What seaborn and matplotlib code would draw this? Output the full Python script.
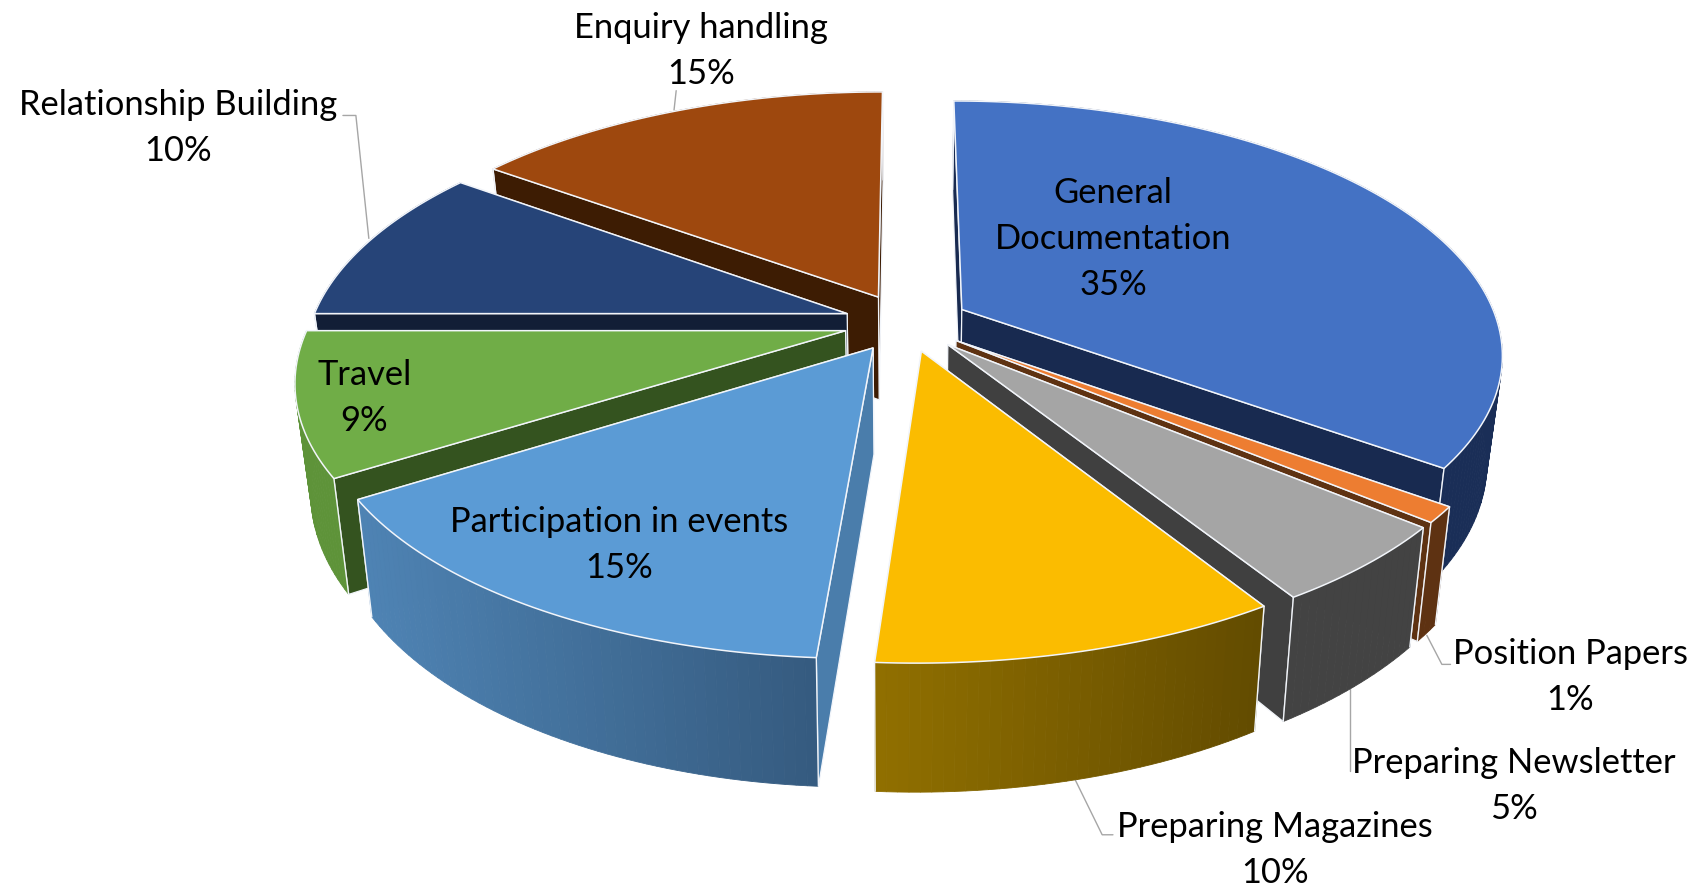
import numpy as np
import matplotlib
matplotlib.use('Agg')
import matplotlib.pyplot as plt
import matplotlib.colors as mcolors
import seaborn as sns

labels = ['General\nDocumentation', 'Position Papers', 'Preparing Newsletter', 'Preparing Magazines',
          'Participation in events', 'Travel', 'Relationship Building', 'Enquiry handling']
values = [35, 1, 5, 10, 15, 9, 10, 15]

top_colors = ['#4472C4', '#ED7D31', '#A5A5A5', '#FBBC00', '#5B9BD5', '#70AD47', '#264478', '#9E480E']
cut_colors = ['#182A50', '#5E3212', '#404040', '#6A5200', '#4A7DAB', '#34531F', '#121E36', '#3D1C03']
rim_left = ['#1A2E57', '#5E3212', '#434343', '#917000', '#4F84B5', '#5E9339', '#1B3157', '#6E330A']
rim_right = ['#1A2E57', '#5E3212', '#434343', '#624B00', '#355B7F', '#5E9339', '#1B3157', '#6E330A']

label_pos = [(1032, 222), (1456, 628), (1404, 729), (1182, 788), (574, 505), (338, 369), (165, 119), (650, 47)]

sns.set_theme(style='white')
plt.rcParams['font.family'] = ['Lato', 'DejaVu Sans']

# shape of the fake 3d view, in pixels of the shrunk picture
cx, cy = 840.5, 300
rx, ry = 497, 230
depth = 97
persp = 0.17
skew = 8


def project(u, v, z):
    s = 1 / (1 + persp * v)
    sz = 1 - 0.026 * z
    shift = skew * min(v, 0) * (1 - 0.9 * max(u, 0))
    return cx + rx * u * s * sz + shift, cy - ry * v * s + depth * z * s


fig, ax = plt.subplots(figsize=(16.91, 8.87), dpi=100)
fig.subplots_adjust(0, 0, 1, 1)

wedges, _ = ax.pie(values, explode=[0.117] * len(values), startangle=90, counterclock=False, radius=1)
shapes = [(w.center, w.theta1, w.theta2) for w in wedges]
for w in wedges:
    w.remove()
ax.set_aspect('auto')
ax.set_xlim(0, 1568)
ax.set_ylim(822.5, 0)
ax.axis('off')

edge = '#F2F5FA'

# back slices first
order = sorted(range(len(values)), key=lambda i: -(shapes[i][0][1]))
for i in order:
    (ox, oy), t1, t2 = shapes[i]
    th = np.radians(np.linspace(t1, t2, max(int(t2 - t1), 3) + 1))
    us = ox + np.cos(th)
    vs = oy + np.sin(th)

    faces = []
    for k in range(len(th) - 1):
        a = project(us[k], vs[k], 0)
        b = project(us[k + 1], vs[k + 1], 0)
        c = project(us[k + 1], vs[k + 1], 1)
        d = project(us[k], vs[k], 1)
        faces.append(((vs[k] + vs[k + 1]) / 2, [a, b, c, d], 'rim'))
    for end in (0, -1):
        a = project(ox, oy, 0)
        b = project(us[end], vs[end], 0)
        c = project(us[end], vs[end], 1)
        d = project(ox, oy, 1)
        faces.append(((oy + vs[end]) / 2, [a, b, c, d], 'cut'))

    xs_rim = [project(u, v, 0)[0] for u, v in zip(us, vs)]
    x0, x1 = min(xs_rim), max(xs_rim)
    c0 = np.array(mcolors.to_rgb(rim_left[i]))
    c1 = np.array(mcolors.to_rgb(rim_right[i]))

    for _, poly, kind in sorted(faces, key=lambda f: -f[0]):
        poly = np.array(poly)
        if kind == 'rim':
            t = (poly[:, 0].mean() - x0) / max(x1 - x0, 1)
            col = c0 + (c1 - c0) * t
            ax.fill(poly[:, 0], poly[:, 1], color=col, lw=0.6, zorder=2)
        else:
            ax.fill(poly[:, 0], poly[:, 1], facecolor=cut_colors[i], edgecolor=edge, lw=0.9, zorder=2)

    # white lines down the two ends of the rim
    for end in (0, -1):
        p = np.array([project(us[end], vs[end], 0), project(us[end], vs[end], 1)])
        ax.plot(p[:, 0], p[:, 1], color=edge, lw=1.0, zorder=2)

    top = [project(ox, oy, 0)] + [project(u, v, 0) for u, v in zip(us, vs)]
    top = np.array(top)
    ax.fill(top[:, 0], top[:, 1], facecolor=top_colors[i], edgecolor=edge, lw=1.1, zorder=2, joinstyle='round')

# leader lines
leaders = [
    [(625, 103), (627, 85)],
    [(342, 222), (330, 108), (318, 108)],
    [(1323, 590), (1337, 617), (1345, 617)],
    [(1252, 640), (1252, 716)],
    [(996, 722), (1022, 775), (1032, 775)],
]
for line in leaders:
    line = np.array(line)
    ax.plot(line[:, 0], line[:, 1], color='#A6A6A6', lw=1.0, zorder=1)

for name, val, (x, y) in zip(labels, values, label_pos):
    ax.text(x, y, f'{name}\n{val}%', ha='center', va='center', fontsize=24.8, color='black',
            linespacing=1.54, zorder=4)

fig.savefig('out.png', dpi=100)
